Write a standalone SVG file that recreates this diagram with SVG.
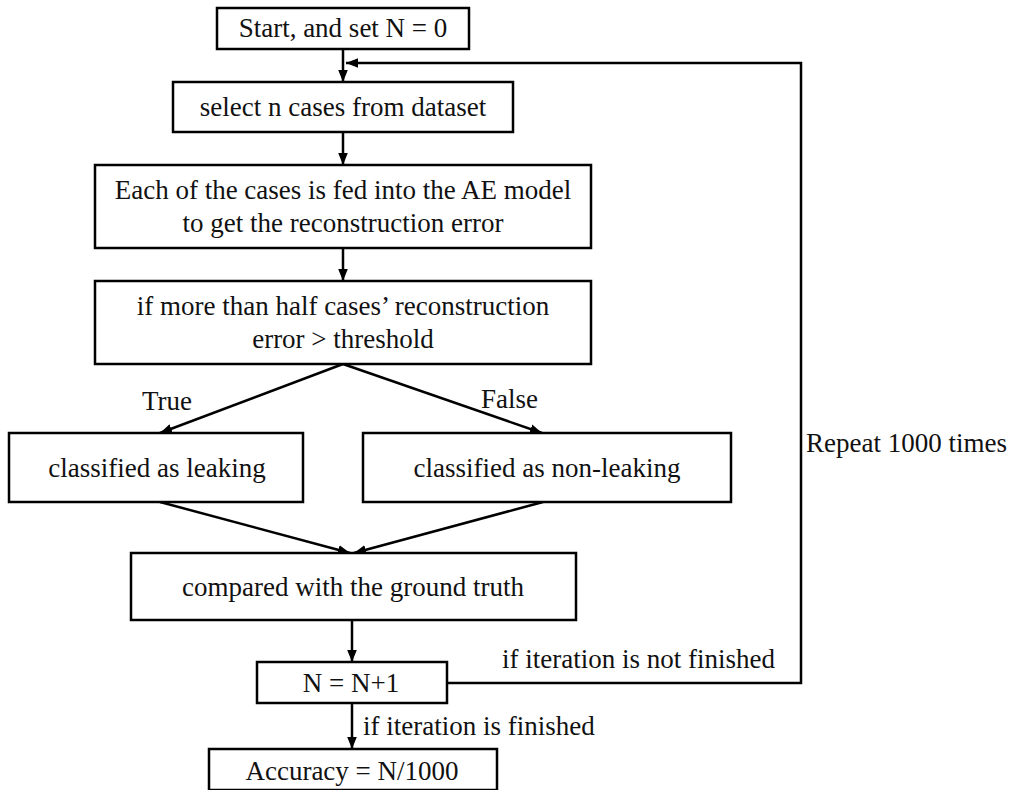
<svg xmlns="http://www.w3.org/2000/svg" width="1014" height="790" viewBox="0 0 1014 790">
<defs>
<style>
.box{fill:#fff;stroke:#000;stroke-width:2.5}
.t{font-family:'Liberation Serif', 'DejaVu Serif', serif;font-size:27px;fill:#111;text-anchor:middle}
.l{font-family:'Liberation Serif', 'DejaVu Serif', serif;font-size:27px;fill:#111}
.c{fill:none;stroke:#000;stroke-width:2.5}
</style>
<marker id="ah2" viewBox="0 0 10 10" refX="10" refY="5" markerWidth="12" markerHeight="12" markerUnits="userSpaceOnUse" orient="auto">
<path d="M0,1 L10,5 L0,9 z" fill="#000"/>
</marker>
</defs>
<rect width="1014" height="790" fill="#fff"/>
<g id="connectors">
<line class="c" x1="343" y1="49" x2="343" y2="82" marker-end="url(#ah2)"/>
<polyline class="c" points="447,683 801,683 801,63 346,63" marker-end="url(#ah2)"/>
<line class="c" x1="343" y1="132" x2="343" y2="165" marker-end="url(#ah2)"/>
<line class="c" x1="343" y1="248" x2="343" y2="281" marker-end="url(#ah2)"/>
<line class="c" x1="343" y1="364" x2="160" y2="433" marker-end="url(#ah2)"/>
<line class="c" x1="343" y1="364" x2="542" y2="433" marker-end="url(#ah2)"/>
<line class="c" x1="160" y1="502" x2="350" y2="553" marker-end="url(#ah2)"/>
<line class="c" x1="543" y1="502" x2="354" y2="553" marker-end="url(#ah2)"/>
<line class="c" x1="352" y1="620" x2="352" y2="662" marker-end="url(#ah2)"/>
<line class="c" x1="352" y1="703" x2="352" y2="749" marker-end="url(#ah2)"/>
<text class="l" x="142" y="410">True</text>
<text class="l" x="481" y="408">False</text>
<text class="l" x="502" y="668">if iteration is not finished</text>
<text class="l" x="363" y="735">if iteration is finished</text>
<text class="l" x="806" y="452">Repeat 1000 times</text>
</g>
<g id="start"><rect class="box" x="217" y="8" width="252" height="41"/><text class="t" x="343" y="37">Start, and set N = 0</text></g>
<g id="select"><rect class="box" x="173" y="82" width="340" height="50"/><text class="t" x="343" y="116">select n cases from dataset</text></g>
<g id="feed"><rect class="box" x="95" y="165" width="496" height="83"/><text class="t" x="343" y="199">Each of the cases is fed into the AE model</text><text class="t" x="343" y="232">to get the reconstruction error</text></g>
<g id="cond"><rect class="box" x="95" y="281" width="496" height="83"/><text class="t" x="343" y="315">if more than half cases’ reconstruction</text><text class="t" x="343" y="348">error &gt; threshold</text></g>
<g id="leaking"><rect class="box" x="9" y="433" width="294" height="69"/><text class="t" x="157" y="477">classified as leaking</text></g>
<g id="nonleaking"><rect class="box" x="363" y="433" width="368" height="69"/><text class="t" x="547" y="477">classified as non-leaking</text></g>
<g id="compare"><rect class="box" x="131" y="553" width="445" height="67"/><text class="t" x="353" y="596">compared with the ground truth</text></g>
<g id="incr"><rect class="box" x="257" y="662" width="190" height="41"/><text class="t" x="351" y="692">N = N+1</text></g>
<g id="acc"><rect class="box" x="209" y="749" width="288" height="41"/><text class="t" x="352" y="780">Accuracy = N/1000</text></g>
</svg>
